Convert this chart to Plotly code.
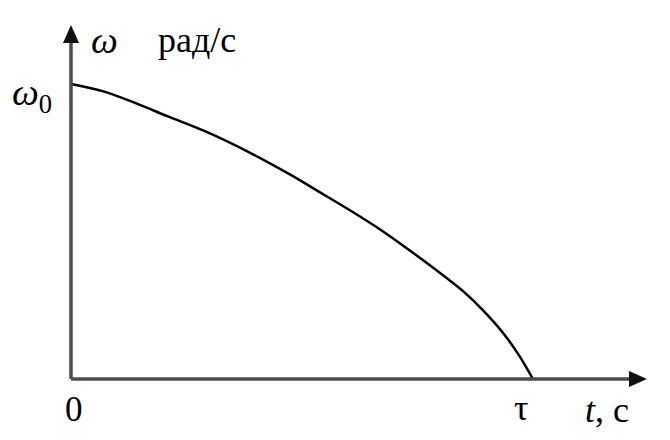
import plotly.graph_objects as go

# curve (t in units of tau, omega in units of omega_0)
t_vals = [0.0, 0.07, 0.14, 0.21, 0.29, 0.39, 0.47, 0.54, 0.61, 0.67, 0.72, 0.79, 0.85, 0.89, 0.935, 0.97, 1.0]
w_vals = [1.0, 0.975, 0.935, 0.89, 0.84, 0.765, 0.697, 0.632, 0.566, 0.506, 0.451, 0.370, 0.296, 0.236, 0.157, 0.080, 0.0]

# 1 unit of t = 462 px, 1 unit of omega = 295 px
x_min, x_max = -20 / 462, 1.26
y_min, y_max = -20 / 295, 1.217
x_end = 1.247   # tip of t arrow
y_end = 1.2     # tip of omega arrow

serif = "Liberation Serif"
axis_col = "#4d4d4d"

fig = go.Figure()

fig.add_trace(go.Scatter(x=t_vals, y=w_vals, mode="lines",
                         line=dict(color="black", width=2.5, shape="spline", smoothing=1.0),
                         hoverinfo="skip"))

# axes lines
fig.add_shape(type="line", x0=0, y0=0, x1=x_end - 0.03, y1=0,
              line=dict(color=axis_col, width=3.5))
fig.add_shape(type="line", x0=0, y0=0, x1=0, y1=y_end - 0.05,
              line=dict(color=axis_col, width=3.5))
# arrow heads (about 18 px long, 16 px wide)
hx, hy = 18 / 462, 8 / 295
fig.add_shape(type="path", fillcolor="#111", line=dict(width=0),
              path=f"M {x_end},0 L {x_end - hx},{hy} L {x_end - hx},{-hy} Z")
vx, vy = 8 / 462, 18 / 295
fig.add_shape(type="path", fillcolor="#111", line=dict(width=0),
              path=f"M 0,{y_end} L {-vx},{y_end - vy} L {vx},{y_end - vy} Z")

# labels, positions given in data units, placed via paper coords
labels = [
    (0.0736, 1.149, "<i>ω</i>", 38),
    (0.273, 1.149, "рад/с", 36),
    (-0.084, 0.962, "<i>ω</i><sub>0</sub>", 38),
    (0.006, -0.105, "0", 35),
    (0.974, -0.098, "τ", 36),
    (1.16, -0.105, "<i>t</i>, с", 36),
]
for x, y, txt, sz in labels:
    fig.add_annotation(x=(x - x_min) / (x_max - x_min), y=(y - y_min) / (y_max - y_min),
                       xref="paper", yref="paper",
                       xanchor="center", yanchor="middle",
                       text=txt, showarrow=False,
                       font=dict(family=serif, size=sz, color="black"))

fig.update_xaxes(range=[x_min, x_max], visible=False)
fig.update_yaxes(range=[y_min, y_max], visible=False)
# page body adds 8px, so the figure is 8px smaller and shifted back
fig.update_layout(width=662, height=432, showlegend=False,
                  margin=dict(l=43, r=17, t=12, b=41, autoexpand=False),
                  plot_bgcolor="white", paper_bgcolor="white")

fig.write_html("out.html")
